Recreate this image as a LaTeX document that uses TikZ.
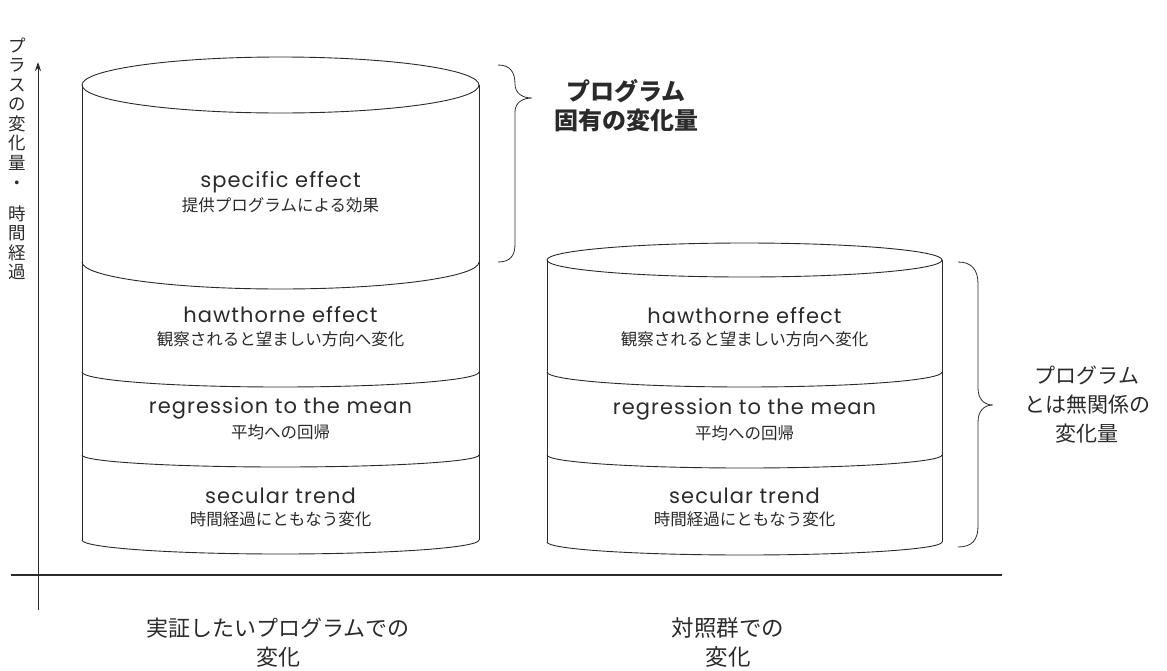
\documentclass[tikz,border=0pt]{standalone}
\usepackage{fontspec}
\setmainfont{Poppins}
\newfontfamily\lat{Poppins}[LetterSpace=5]
\newfontfamily\jp{Noto Sans CJK JP}
\usetikzlibrary{arrows.meta}
\definecolor{ink}{HTML}{2A2A2A}
\begin{document}
\begin{tikzpicture}[x=1pt,y=-1pt,
  en/.style={font=\lat\fontsize{21}{23}\selectfont, text=ink, inner sep=0pt},
  ja/.style={font=\jp\fontsize{16.5}{18}\selectfont, text=ink, inner sep=0pt},
  cyl/.style={draw=ink, line width=0.9pt},
  brc/.style={draw=ink, line width=0.8pt},
  lbl/.style={font=\jp\fontsize{21}{29}\selectfont, text=ink, align=center, inner sep=0pt},
  axis/.style={draw=ink, line width=1pt}]
\useasboundingbox (0,0) rectangle (1167,670);

% axes
\coordinate (ybot) at (38,610);
\coordinate (ytop) at (38,62);
\coordinate (xl) at (11,575);
\coordinate (xr) at (1002,575);
\draw[axis, -{Stealth[length=9pt,width=6pt]}] (ybot) -- (ytop);
\draw[axis, line width=1.3pt] (xl) -- (xr);

% y-axis label (vertical)
\node[ja, font=\jp\fontsize{17.5}{19.5}\selectfont, align=center] (ylab1) at (17,104) {プ\\ラ\\ス\\の\\変\\化\\量};
\node[ja, font=\jp\fontsize{17.5}{19.5}\selectfont] (ylab2) at (17,185) {・};
\node[ja, font=\jp\fontsize{17.5}{19.5}\selectfont, align=center] (ylab3) at (17,243) {時\\間\\経\\過};

% left cylinder
\draw[cyl] (280.5,85) ellipse [x radius=198.5pt, y radius=28pt];
\draw[cyl] (82,85) -- (82,540);
\draw[cyl] (479,85) -- (479,540);
\draw[cyl] (82,262) arc[start angle=180, end angle=360, x radius=198.5pt, y radius=27pt];
\draw[cyl] (82,372) arc[start angle=180, end angle=360, x radius=198.5pt, y radius=15pt];
\draw[cyl] (82,455) arc[start angle=180, end angle=360, x radius=198.5pt, y radius=12pt];
\draw[cyl] (82,540) arc[start angle=180, end angle=360, x radius=198.5pt, y radius=14pt];

\node[en] (lse) at (280.5,182) {specific effect};
\node[ja] (lsj) at (280.5,205) {提供プログラムによる効果};
\node[en] (lhe) at (280.5,315) {hawthorne effect};
\node[ja] (lhj) at (280.5,339) {観察されると望ましい方向へ変化};
\node[en] (lre) at (280.5,408) {regression to the mean};
\node[ja] (lrj) at (280.5,432) {平均への回帰};
\node[en] (lte) at (280.5,496) {secular trend};
\node[ja] (ltj) at (280.5,519) {時間経過にともなう変化};

% right cylinder
\draw[cyl] (744.5,260) ellipse [x radius=197.5pt, y radius=17pt];
\draw[cyl] (547,260) -- (547,542);
\draw[cyl] (942,260) -- (942,542);
\draw[cyl] (547,372) arc[start angle=180, end angle=360, x radius=197.5pt, y radius=15pt];
\draw[cyl] (547,455) arc[start angle=180, end angle=360, x radius=197.5pt, y radius=13pt];
\draw[cyl] (547,542) arc[start angle=180, end angle=360, x radius=197.5pt, y radius=13pt];

\node[en] (rhe) at (744.5,316) {hawthorne effect};
\node[ja] (rhj) at (744.5,339) {観察されると望ましい方向へ変化};
\node[en] (rre) at (744.5,409) {regression to the mean};
\node[ja] (rrj) at (744.5,433) {平均への回帰};
\node[en] (rte) at (744.5,496) {secular trend};
\node[ja] (rtj) at (744.5,519) {時間経過にともなう変化};

% braces
\draw[brc] (498,65) .. controls (510,65) and (515,72) .. (515,84)
  .. controls (515,93) and (522,98) .. (532,98)
  .. controls (522,98) and (515,103) .. (515,112)
  -- (515,244) .. controls (515,256) and (510,262) .. (498,262);
\draw[brc] (958,262) .. controls (972,262) and (978,270) .. (978,284)
  -- (978,388) .. controls (978,399) and (984,405) .. (993,405)
  .. controls (984,405) and (978,411) .. (978,422)
  -- (978,526) .. controls (978,540) and (972,547) .. (958,547);

\node[lbl, font=\jp\bfseries\fontsize{24}{29}\selectfont] (b1) at (626,105.5) {プログラム\\固有の変化量};
\node[lbl] (b2) at (1087,405) {プログラム\\とは無関係の\\変化量};

% bottom labels
\node[lbl, font=\jp\fontsize{22}{29}\selectfont] (c1) at (278,642.5) {実証したいプログラムでの\\変化};
\node[lbl, font=\jp\fontsize{22.5}{29}\selectfont] (c2) at (728,642.5) {対照群での\\変化};
\end{tikzpicture}
\end{document}
